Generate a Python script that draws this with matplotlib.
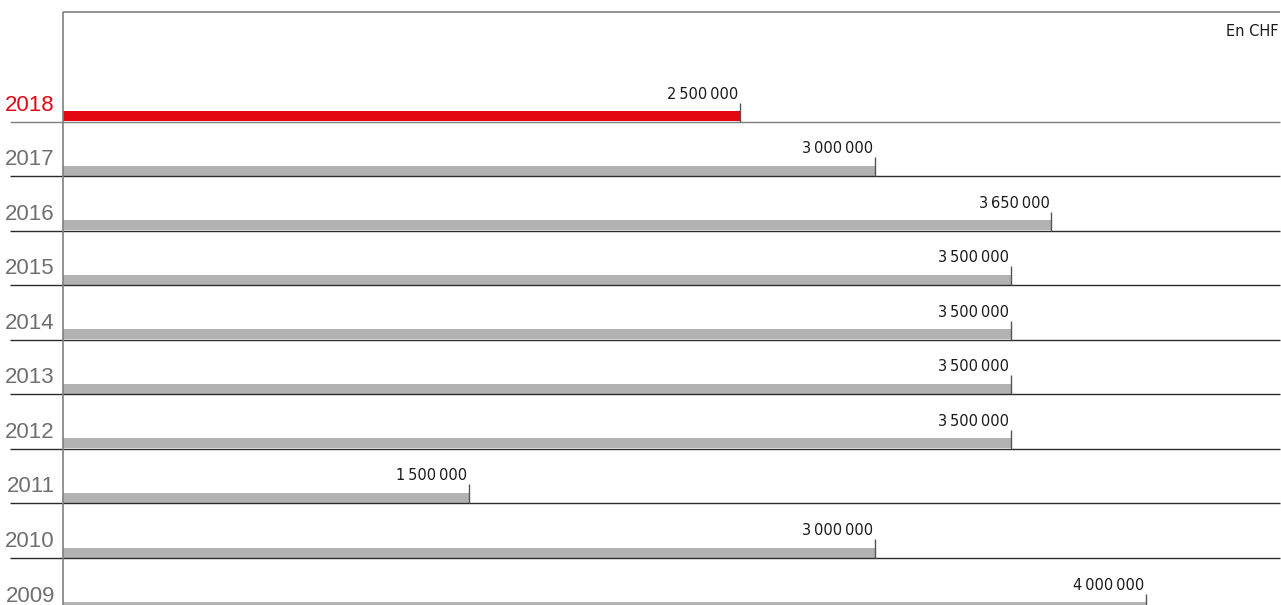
import matplotlib.pyplot as plt

# data
years = ["2018", "2017", "2016", "2015", "2014", "2013", "2012", "2011", "2010", "2009"]
amounts = [2500000, 3000000, 3650000, 3500000, 3500000, 3500000, 3500000, 1500000, 3000000, 4000000]
unit_label = "En CHF"

RED = "#e30613"
BAR_GREY = "#b2b2b2"
TEXT_GREY = "#6f6f6f"
FRAME_GREY = "#7f7f7f"

W, H, DPI = 1281, 605, 100
X0 = 63            # px of zero
PX_PER_M = 270.8   # px per million
ROW_TOP = 122      # px of the first baseline
ROW_STEP = 54.5    # px between baselines


def fmt(v):
    return f"{v:,}".replace(",", "\u2009")


def main():
    fig = plt.figure(figsize=(W / DPI, H / DPI), dpi=DPI)
    ax = fig.add_axes([X0 / W, 0, (W - X0) / W, 1])
    ax.set_xlim(0, (W - X0) / PX_PER_M * 1e6)
    ax.set_ylim((H - ROW_TOP) / ROW_STEP, -ROW_TOP / ROW_STEP)
    ax.axis("off")

    px = 1 / ROW_STEP  # one pixel in row units
    px_x = 1e6 / PX_PER_M

    rows = list(range(len(years)))
    colors = [RED if i == 0 else BAR_GREY for i in rows]
    ax.barh([r - 10.5 * px for r in rows], amounts, height=10 * px,
            align="edge", color=colors, linewidth=0)

    # baselines
    for i in rows:
        ax.hlines(i, -53 * px_x, ax.get_xlim()[1] - 1 * px_x,
                  color=FRAME_GREY if i == 0 else "#2b2b2b",
                  lw=1.0, clip_on=False)

    # frame: left axis and top rule
    ax.vlines(0, -(ROW_TOP - 12.5) * px, 20, color=FRAME_GREY, lw=1.2,
              clip_on=False)
    ax.hlines(-(ROW_TOP - 12.5) * px, 0, ax.get_xlim()[1] - 1 * px_x,
              color=FRAME_GREY, lw=1.2)

    # end ticks and value labels
    for i, v in zip(rows, amounts):
        ax.vlines(v, i, i - 19 * px, color="#555555", lw=1.0)
        ax.annotate(fmt(v), (v, i), xytext=(-2, 23), textcoords="offset pixels",
                    ha="right", va="baseline", fontsize=10.5,
                    family="DejaVu Sans", color="#1a1a1a",
                    annotation_clip=False)
        ax.annotate(years[i], (0, i), xytext=(-8, 11), textcoords="offset pixels",
                    ha="right", va="baseline", fontsize=16,
                    family="Liberation Sans",
                    color=RED if i == 0 else TEXT_GREY, annotation_clip=False)

    fig.text((W - 2) / W, 1 - 36 / H, unit_label, ha="right", va="baseline",
             fontsize=10.5, family="DejaVu Sans", color="#1a1a1a")

    fig.savefig("out.png", dpi=DPI)


if __name__ == "__main__":
    main()
